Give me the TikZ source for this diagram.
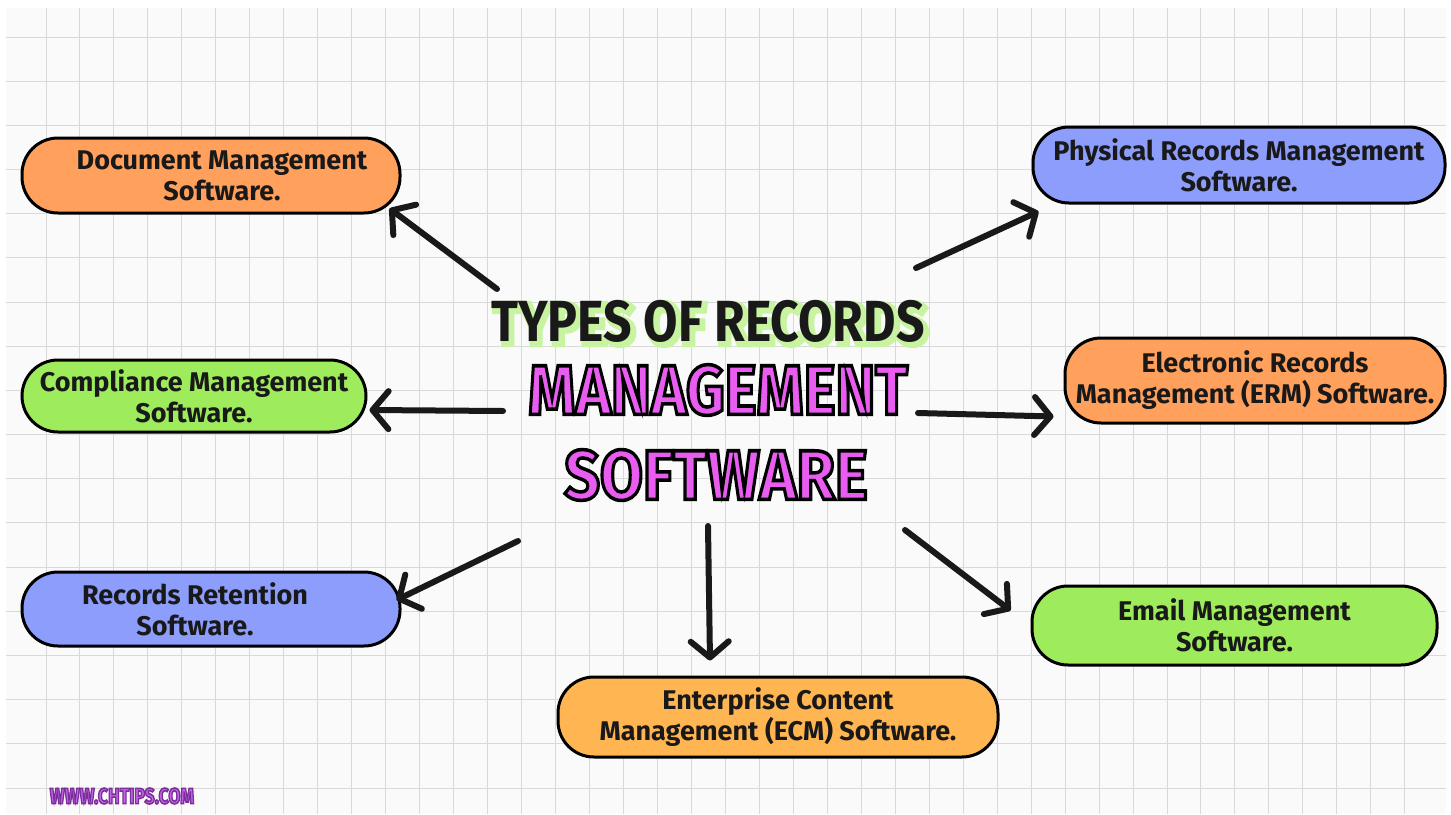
\documentclass[tikz,border=0pt]{standalone}
\usepackage{fontspec}
\setmainfont{Fira Sans}
\usetikzlibrary{arrows.meta,calc}
\definecolor{gridbg}{HTML}{FAFAFA}
\definecolor{gridln}{HTML}{D9D9D9}
\definecolor{orangebox}{HTML}{FFA05C}
\definecolor{greenbox}{HTML}{9EEB5C}
\definecolor{bluebox}{HTML}{8C9DFB}
\definecolor{ecmbox}{HTML}{FFB652}
\definecolor{magentatxt}{HTML}{E85CF0}
\definecolor{shadowgreen}{HTML}{C8F3A0}
\definecolor{wmfill}{HTML}{C466E6}
\tikzset{
  boxnode/.style={draw=black, line width=3pt, rounded corners=36pt, align=center,
    inner sep=0pt, font=\fontsize{27}{31}\selectfont\bfseries, text=black!90},
  conn/.style={line width=6pt, line cap=round, draw=black!90,
    -{Straight Barb[length=16pt, width=38pt, line width=6pt, round]}},
  gridline/.style={draw=gridln, line width=1pt}
}
% text drawn filled in the current colour and stroked with the given RGB colour and width
\newcommand\strokedtext[3]{%
  \special{pdf:literal direct 2 Tr #2 w #1 RG}#3\special{pdf:literal direct 0 Tr}}
\begin{document}
\begin{tikzpicture}[x=1pt,y=-1pt]
\useasboundingbox (0,0) rectangle (1451,814);
\fill[white] (0,0) rectangle (1451,814);
\fill[gridbg] (6,8) rectangle (1446,814);
\foreach \i in {0,...,40} \draw[gridline] ({46+\i*33.97},8) -- ({46+\i*33.97},814);
\foreach \j in {0,...,17} \draw[gridline] (6,{37+\j*44.18}) -- (1446,{37+\j*44.18});

% boxes
\node[boxnode, fill=orangebox, minimum width=378pt, minimum height=75pt] (doc) at (211,175.5)
  {\hspace*{22pt}Document Management\\\hspace*{22pt}Software.};
\node[boxnode, fill=greenbox, minimum width=344pt, minimum height=72pt] (comp) at (194,396)
  {Compliance Management\\Software.};
\node[boxnode, fill=bluebox, minimum width=378pt, minimum height=74pt] (rec) at (211,609)
  {Records Retention\hspace*{32pt}\\Software.\hspace*{32pt}};
\node[boxnode, fill=ecmbox, minimum width=440pt, minimum height=80pt] (ecm) at (778,717)
  {Enterprise Content\\Management (ECM) Software.};
\node[boxnode, fill=greenbox, minimum width=405pt, minimum height=79pt] (email) at (1234.5,625.5)
  {Email Management\\Software.};
\node[boxnode, fill=orangebox, minimum width=380pt, minimum height=85pt] (erm) at (1255,380.5)
  {Electronic Records\\Management (ERM) Software.};
\node[boxnode, fill=bluebox, minimum width=412pt, minimum height=76pt] (phys) at (1239,165)
  {Physical Records Management\\Software.};

% title
\node[text=shadowgreen, inner sep=0pt] (titleglow) at (711,324)
  {\fontsize{58}{58}\selectfont\bfseries\scalebox{0.86}[1]{\strokedtext{0.784 0.953 0.627}{6}{TYPES OF RECORDS}}};
\node[text=black!90, inner sep=0pt] (title) at (708,321)
  {\fontsize{58}{58}\selectfont\bfseries\scalebox{0.86}[1]{TYPES OF RECORDS}};
\node[text=magentatxt, inner sep=0pt] (mgmt) at (718,390)
  {\fontsize{70}{70}\selectfont\bfseries\scalebox{0.86}[1]{\strokedtext{0 0 0}{3.5}{MANAGEMENT}}};
\node[text=magentatxt, inner sep=0pt] (soft) at (716,475)
  {\fontsize{70}{70}\selectfont\bfseries\scalebox{0.89}[1]{\strokedtext{0 0 0}{3.5}{SOFTWARE}}};

% watermark
\node[text=wmfill, inner sep=0pt] (wm) at (122,796)
  {\fontsize{22}{22}\selectfont\bfseries\scalebox{0.8}[1]{\strokedtext{0.478 0.18 0.604}{1.6}{WWW.CHTIPS.COM}}};

% arrow tails
\coordinate (tdoc) at (497,289);
\coordinate (tphys) at (916,268);
\coordinate (tcomp) at (503,411);
\coordinate (term) at (918,413);
\coordinate (trec) at (518,541);
\coordinate (tecm) at (708,526);
\coordinate (temail) at (905,530);

\draw[conn] (tdoc) -- ($(doc.south east)+(-12,-6)$);
\draw[conn] (tphys) -- ($(phys.south west)+(7,7)$);
\draw[conn] (tcomp) -- ($(comp.east)+(2,14)$);
\draw[conn] (term) -- ($(erm.south west)+(-10,-8)$);
\draw[conn] (trec) -- ($(rec.east)+(-5,-9)$);
\draw[conn] (tecm) -- ($(ecm.north)+(-68,-15)$);
\draw[conn] (temail) -- ($(email.west)+(-20,-15)$);
\end{tikzpicture}
\end{document}
